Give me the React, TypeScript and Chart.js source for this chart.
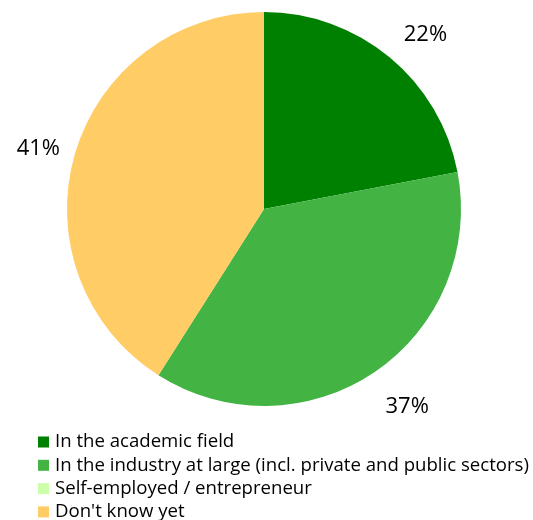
import React, { useEffect, useRef } from "react";
import { Chart, registerables } from "chart.js";

Chart.register(...registerables);

const categories = [
  "In the academic field",
  "In the industry at large (incl. private and public sectors)",
  "Self-employed / entrepreneur",
  "Don't know yet",
];
const values = [22, 37, 0, 41];
const colors = ["#008000", "#43B343", "#CCFFAA", "#FFCC66"];

const FONT = "'Open Sans', Lato, sans-serif";

const outsideLabels = {
  id: "outsideLabels",
  afterDatasetsDraw(chart: any) {
    const ctx = chart.ctx;
    const meta = chart.getDatasetMeta(0);
    const data = chart.data.datasets[0].data as number[];
    ctx.save();
    ctx.font = `22px ${FONT}`;
    ctx.fillStyle = "#000";
    ctx.textAlign = "center";
    ctx.textBaseline = "middle";
    meta.data.forEach((arc: any, i: number) => {
      if (!data[i]) return;
      const p = arc.getProps(["x", "y", "startAngle", "endAngle", "outerRadius"], true);
      const mid = (p.startAngle + p.endAngle) / 2;
      const txt = `${data[i]}%`;
      const w = ctx.measureText(txt).width;
      const h = 24;
      const d = p.outerRadius * 1.12;
      const cx = p.x + 7 + Math.cos(mid) * d + (Math.cos(mid) * w) / 2;
      const cy = p.y + 5 + Math.sin(mid) * d + (Math.sin(mid) * h) / 2;
      ctx.fillText(txt, cx, cy);
    });
    ctx.restore();
  },
};

const customLegend = {
  id: "customLegend",
  afterDraw(chart: any) {
    const ctx = chart.ctx;
    const labels = chart.data.labels as string[];
    const bg = chart.data.datasets[0].backgroundColor as string[];
    ctx.save();
    ctx.font = `18.6px ${FONT}`;
    ctx.textBaseline = "middle";
    ctx.textAlign = "left";
    labels.forEach((t, i) => {
      const cy = 442 + i * 23.3;
      ctx.fillStyle = bg[i];
      ctx.fillRect(38, cy - 5.5, 11, 11);
      ctx.fillStyle = "#000";
      ctx.fillText(t, 55, cy);
    });
    ctx.restore();
  },
};

export default function App() {
  const ref = useRef<HTMLCanvasElement>(null);
  useEffect(() => {
    document.body.style.margin = "0";
    const chart = new Chart(ref.current!, {
      type: "pie",
      data: {
        labels: categories,
        datasets: [
          {
            data: values,
            backgroundColor: colors,
            borderWidth: 0,
          },
        ],
      },
      options: {
        animation: false,
        responsive: false,
        layout: { padding: { left: 67, right: 72, top: 12, bottom: 114 } },
        plugins: {
          legend: { display: false },
          tooltip: { enabled: false },
        },
      },
      plugins: [outsideLabels, customLegend],
    });
    return () => chart.destroy();
  }, []);
  return (
    <div style={{ width: 533, height: 520, background: "#fff" }}>
      <canvas ref={ref} width={533} height={520} />
    </div>
  );
}
